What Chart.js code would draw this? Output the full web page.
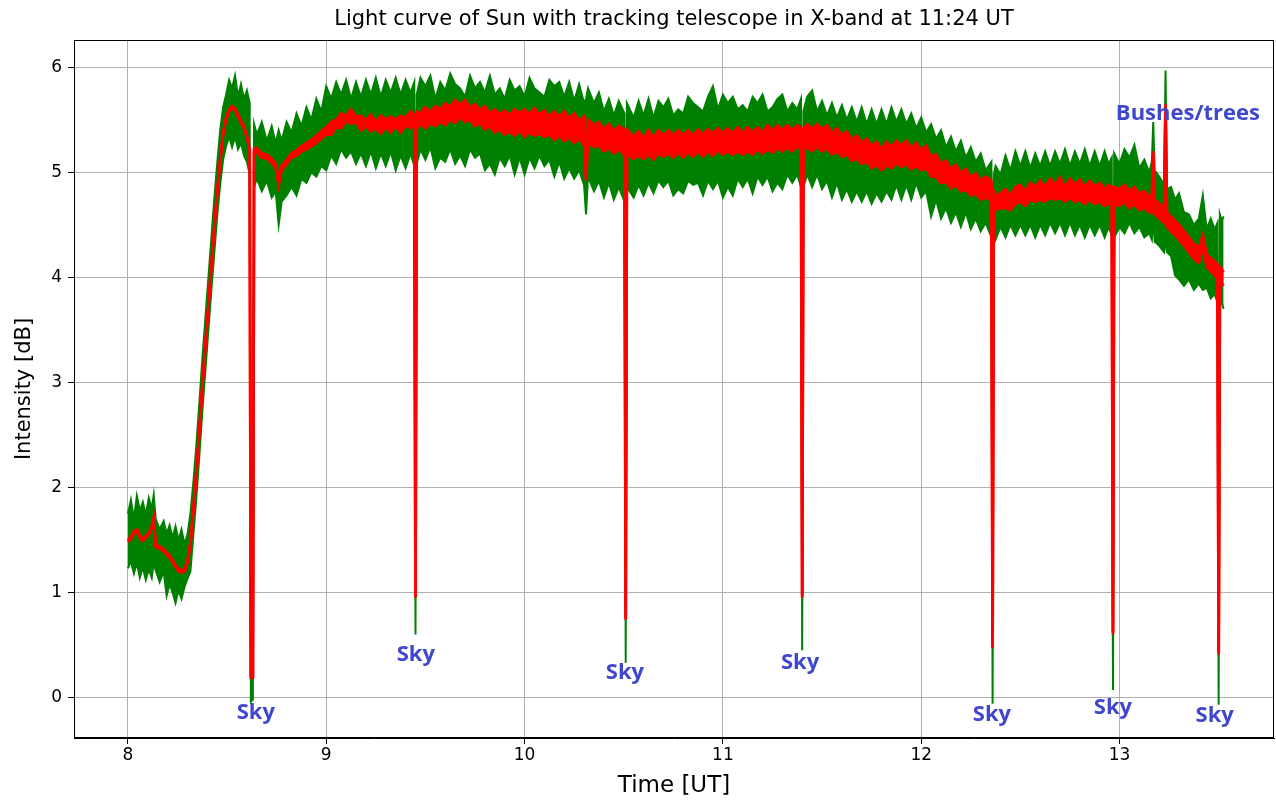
<!DOCTYPE html>
<html><head><meta charset="utf-8">
<script src="https://cdn.jsdelivr.net/npm/chart.js@4.4.0/dist/chart.umd.min.js"></script>
<style>html,body{margin:0;padding:0;background:#fff}canvas{display:block}</style>
</head><body>
<canvas id="c" width="1276" height="801"></canvas>
<script>
// Time [UT]
const time = [
8.000,8.015,8.030,8.045,8.060,8.075,8.090,8.105,8.120,8.130,
8.140,8.160,8.180,8.195,8.210,8.225,8.240,8.255,8.270,8.285,
8.300,8.315,8.330,8.345,8.360,8.375,8.390,8.405,8.420,8.435,
8.450,8.465,8.480,8.495,8.510,8.525,8.540,8.555,8.570,8.585,
8.600,8.614,8.620,8.630,8.636,8.650,8.675,8.700,8.725,8.745,
8.760,8.775,8.800,8.825,8.850,8.875,8.900,8.925,8.950,8.975,
9.000,9.025,9.050,9.075,9.100,9.125,9.150,9.175,9.200,9.225,
9.250,9.275,9.300,9.325,9.350,9.375,9.400,9.425,9.444,9.450,
9.456,9.475,9.500,9.525,9.550,9.575,9.600,9.625,9.650,9.675,
9.700,9.725,9.750,9.775,9.800,9.825,9.850,9.875,9.900,9.925,
9.950,9.975,10.000,10.025,10.050,10.075,10.100,10.125,10.150,10.175,
10.200,10.225,10.250,10.275,10.300,10.310,10.320,10.350,10.375,10.400,
10.425,10.450,10.475,10.504,10.510,10.516,10.550,10.575,10.600,10.625,
10.650,10.675,10.700,10.725,10.750,10.775,10.800,10.825,10.850,10.875,
10.900,10.925,10.950,10.975,11.000,11.025,11.050,11.075,11.100,11.125,
11.150,11.175,11.200,11.225,11.250,11.275,11.300,11.325,11.350,11.375,
11.394,11.400,11.406,11.425,11.450,11.475,11.500,11.525,11.550,11.575,
11.600,11.625,11.650,11.675,11.700,11.725,11.750,11.775,11.800,11.825,
11.850,11.875,11.900,11.925,11.950,11.975,12.000,12.025,12.050,12.075,
12.100,12.125,12.150,12.175,12.200,12.225,12.250,12.275,12.300,12.325,
12.354,12.360,12.366,12.375,12.400,12.425,12.450,12.475,12.500,12.525,
12.550,12.575,12.600,12.625,12.650,12.675,12.700,12.725,12.750,12.775,
12.800,12.825,12.850,12.875,12.900,12.925,12.945,12.961,12.967,12.973,
13.000,13.025,13.050,13.075,13.100,13.125,13.150,13.163,13.170,13.177,
13.200,13.225,13.232,13.239,13.260,13.280,13.300,13.325,13.350,13.375,
13.400,13.420,13.440,13.460,13.480,13.494,13.500,13.506,13.515,13.525
];
// Raw signal (green): upper and lower envelope of the noise band [dB]
const greenHigh = [
1.75,1.88,1.70,1.92,1.78,1.86,1.74,1.90,1.80,1.93,
1.70,1.60,1.68,1.56,1.64,1.52,1.63,1.50,1.60,1.46,
1.55,1.75,2.05,2.40,2.80,3.22,3.60,3.98,4.36,4.74,
5.08,5.40,5.62,5.74,5.88,5.80,5.92,5.72,5.84,5.70,
5.78,5.66,0.22,0.22,5.46,5.36,5.48,5.30,5.44,5.28,
5.40,5.30,5.48,5.38,5.56,5.44,5.62,5.50,5.70,5.58,
5.82,5.70,5.86,5.74,5.88,5.70,5.86,5.72,5.88,5.74,
5.90,5.72,5.88,5.76,5.90,5.74,5.88,5.76,5.86,0.97,
5.74,5.90,5.82,5.92,5.70,5.86,5.78,5.94,5.84,5.80,
5.72,5.92,5.80,5.86,5.76,5.92,5.74,5.80,5.70,5.88,
5.78,5.82,5.72,5.90,5.80,5.76,5.72,5.88,5.82,5.86,
5.72,5.86,5.68,5.84,5.66,5.70,5.80,5.66,5.76,5.58,
5.70,5.54,5.68,5.56,0.76,5.66,5.52,5.68,5.54,5.70,
5.52,5.68,5.62,5.70,5.54,5.60,5.56,5.72,5.66,5.62,
5.58,5.72,5.82,5.60,5.74,5.66,5.72,5.60,5.64,5.58,
5.72,5.66,5.74,5.58,5.62,5.70,5.74,5.58,5.66,5.60,
5.70,0.97,5.58,5.72,5.78,5.58,5.68,5.54,5.66,5.52,
5.64,5.50,5.62,5.48,5.62,5.46,5.60,5.46,5.60,5.46,
5.62,5.48,5.60,5.46,5.56,5.42,5.52,5.38,5.46,5.32,
5.40,5.24,5.34,5.20,5.30,5.14,5.24,5.10,5.18,5.02,
5.10,0.49,4.98,5.06,4.98,5.16,5.02,5.20,5.06,5.20,
5.04,5.18,5.06,5.20,5.06,5.20,5.08,5.22,5.06,5.20,
5.08,5.22,5.06,5.20,5.06,5.20,5.08,5.14,0.62,5.18,
5.08,5.22,5.14,5.26,5.04,5.12,5.00,5.10,5.48,5.02,
4.96,4.88,5.97,4.84,4.86,4.74,4.80,4.62,4.60,4.50,
4.56,4.78,4.46,4.56,4.46,4.52,0.43,4.60,4.54,4.58
];
const greenLow = [
1.23,1.30,1.18,1.28,1.14,1.24,1.12,1.22,1.14,1.28,
1.21,1.10,1.20,0.97,1.08,1.00,0.90,1.02,0.94,1.05,
1.13,1.20,1.55,1.90,2.30,2.72,3.10,3.48,3.86,4.22,
4.58,4.88,5.12,5.25,5.34,5.24,5.34,5.22,5.28,5.16,
5.10,4.98,-0.04,-0.02,4.86,4.94,4.82,4.92,4.76,4.82,
4.50,4.72,4.78,4.86,4.78,4.94,4.90,5.00,4.96,5.06,
5.02,5.16,5.08,5.22,5.14,5.20,5.08,5.18,5.06,5.20,
5.04,5.18,5.06,5.20,5.02,5.16,5.04,5.18,5.06,0.60,
5.08,5.22,5.12,5.24,5.04,5.14,5.10,5.22,5.08,5.16,
5.06,5.22,5.14,5.18,5.02,5.08,4.98,5.14,5.06,5.16,
4.98,5.14,4.98,5.14,5.04,5.16,5.06,5.12,4.96,5.10,
4.94,5.04,4.94,5.02,4.88,4.60,4.96,4.82,4.92,4.76,
4.90,4.74,4.86,4.72,0.33,4.86,4.76,4.88,4.78,4.90,
4.80,4.92,4.86,4.92,4.78,4.84,4.80,4.92,4.88,4.90,
4.78,4.92,4.84,4.92,4.76,4.86,4.78,4.94,4.86,4.94,
4.80,4.96,4.88,4.96,4.82,4.90,4.84,4.98,4.90,4.98,
4.86,0.45,4.86,4.98,4.86,4.98,4.84,4.92,4.76,4.90,
4.74,4.84,4.72,4.82,4.72,4.82,4.70,4.80,4.72,4.82,
4.74,4.88,4.74,4.88,4.74,4.90,4.76,4.82,4.58,4.74,
4.56,4.66,4.52,4.62,4.48,4.62,4.46,4.56,4.44,4.52,
4.38,-0.06,4.44,4.36,4.48,4.38,4.50,4.40,4.50,4.40,
4.50,4.38,4.50,4.40,4.52,4.42,4.52,4.40,4.52,4.40,
4.50,4.38,4.50,4.40,4.50,4.38,4.48,4.40,0.07,4.38,
4.48,4.42,4.52,4.42,4.48,4.38,4.42,4.36,4.60,4.34,
4.30,4.24,4.40,4.24,4.20,4.02,3.98,3.92,3.98,3.88,
3.94,3.88,3.90,3.80,3.84,3.76,-0.07,3.74,3.76,3.70
];
// Smoothed signal (red): upper and lower edge [dB]
const redHigh = [
1.50,1.53,1.58,1.60,1.54,1.51,1.54,1.57,1.63,1.71,
1.45,1.44,1.41,1.38,1.35,1.31,1.26,1.22,1.21,1.22,
1.30,1.47,1.80,2.14,2.54,2.97,3.35,3.72,4.10,4.47,
4.82,5.12,5.38,5.52,5.60,5.63,5.61,5.55,5.49,5.44,
5.35,5.22,0.21,0.21,5.22,5.23,5.18,5.17,5.13,5.08,
4.94,5.06,5.12,5.18,5.21,5.25,5.28,5.31,5.35,5.39,
5.43,5.48,5.50,5.56,5.54,5.60,5.53,5.54,5.49,5.55,
5.48,5.54,5.50,5.53,5.50,5.54,5.52,5.58,5.55,0.97,
5.58,5.56,5.62,5.57,5.63,5.60,5.66,5.62,5.69,5.64,
5.69,5.62,5.65,5.59,5.63,5.56,5.60,5.55,5.59,5.54,
5.60,5.56,5.60,5.55,5.61,5.55,5.59,5.53,5.58,5.53,
5.58,5.51,5.56,5.49,5.53,5.00,5.50,5.45,5.48,5.41,
5.46,5.39,5.44,5.40,0.76,5.41,5.34,5.39,5.33,5.40,
5.33,5.40,5.35,5.40,5.35,5.40,5.35,5.40,5.35,5.41,
5.36,5.41,5.37,5.42,5.37,5.42,5.37,5.43,5.37,5.43,
5.38,5.43,5.38,5.45,5.39,5.45,5.40,5.45,5.40,5.45,
5.42,0.97,5.42,5.46,5.41,5.46,5.41,5.45,5.37,5.42,
5.35,5.39,5.31,5.35,5.28,5.32,5.25,5.29,5.22,5.29,
5.24,5.30,5.25,5.30,5.23,5.28,5.21,5.25,5.15,5.17,
5.08,5.11,5.03,5.07,4.99,5.03,4.95,4.99,4.92,4.96,
4.92,0.49,4.82,4.78,4.80,4.84,4.78,4.86,4.88,4.82,
4.90,4.86,4.92,4.86,4.94,4.88,4.95,4.86,4.94,4.88,
4.93,4.86,4.92,4.86,4.90,4.84,4.88,4.86,0.62,4.86,
4.84,4.88,4.82,4.86,4.80,4.82,4.76,4.78,5.20,4.74,
4.70,4.66,5.65,4.62,4.58,4.54,4.50,4.44,4.38,4.32,
4.28,4.40,4.22,4.18,4.15,4.12,0.43,4.10,4.08,4.05
];
const redLow = [
1.48,1.51,1.56,1.58,1.52,1.49,1.52,1.55,1.61,1.69,
1.43,1.42,1.39,1.36,1.33,1.29,1.24,1.20,1.19,1.20,
1.28,1.45,1.78,2.12,2.52,2.95,3.33,3.70,4.08,4.45,
4.80,5.10,5.36,5.50,5.58,5.61,5.59,5.53,5.47,5.42,
5.33,5.20,0.19,0.19,5.19,5.19,5.14,5.13,5.09,5.04,
4.88,5.02,5.08,5.14,5.16,5.20,5.22,5.25,5.28,5.32,
5.36,5.36,5.43,5.42,5.49,5.46,5.48,5.40,5.44,5.39,
5.42,5.37,5.43,5.38,5.44,5.38,5.45,5.42,5.47,0.95,
5.42,5.46,5.42,5.47,5.44,5.48,5.45,5.50,5.47,5.53,
5.48,5.50,5.44,5.47,5.41,5.44,5.38,5.41,5.36,5.39,
5.35,5.40,5.34,5.38,5.35,5.37,5.34,5.36,5.31,5.35,
5.30,5.33,5.28,5.32,5.26,4.92,5.29,5.24,5.26,5.20,
5.23,5.18,5.22,5.16,0.74,5.18,5.13,5.16,5.13,5.17,
5.12,5.18,5.15,5.18,5.14,5.19,5.14,5.19,5.15,5.20,
5.15,5.20,5.16,5.21,5.17,5.20,5.17,5.20,5.17,5.20,
5.17,5.22,5.18,5.22,5.19,5.23,5.20,5.24,5.20,5.25,
5.22,0.95,5.22,5.24,5.20,5.25,5.20,5.23,5.17,5.20,
5.15,5.17,5.11,5.13,5.08,5.10,5.04,5.07,5.02,5.07,
5.04,5.09,5.05,5.08,5.03,5.06,5.02,5.04,4.96,4.96,
4.90,4.91,4.85,4.88,4.82,4.84,4.78,4.80,4.74,4.76,
4.73,0.47,4.68,4.64,4.66,4.66,4.64,4.70,4.72,4.68,
4.74,4.72,4.74,4.72,4.76,4.74,4.76,4.72,4.76,4.72,
4.74,4.70,4.74,4.70,4.72,4.68,4.70,4.70,0.60,4.70,
4.68,4.72,4.66,4.70,4.64,4.66,4.62,4.62,5.16,4.60,
4.56,4.52,5.60,4.48,4.44,4.40,4.36,4.30,4.24,4.18,
4.14,4.28,4.10,4.06,4.02,3.98,0.41,3.96,3.94,3.92
];
// Annotations (anchored in data coordinates)
const skyLabelText = 'Sky';
const skyLabelX = [8.645, 9.452, 10.506, 11.389, 12.357, 12.967, 13.48];
const skyLabelY = [-0.148, 0.405, 0.233, 0.328, -0.167, -0.10, -0.176];
const bushLabelText = 'Bushes/trees';
const bushLabelX = [13.345];
const bushLabelY = [5.556];
const xTickRange = [7.728, 13.779];
const yTickRange = [-0.386, 6.26];

const pts = arr => time.map((t, i) => ({x: t, y: arr[i]}));
const RED = '#ff0000', GREEN = '#008000';

const annotate = {
  id: 'annotate',
  afterDatasetsDraw(chart) {
    const {ctx, scales: {x, y}} = chart;
    ctx.save();
    ctx.font = 'bold 22px "Open Sans"';
    ctx.fillStyle = '#3f48cc';
    ctx.textAlign = 'center';
    ctx.textBaseline = 'middle';
    skyLabelX.forEach((v, i) => ctx.fillText(skyLabelText, x.getPixelForValue(v), y.getPixelForValue(skyLabelY[i])));
    ctx.fillText(bushLabelText, x.getPixelForValue(bushLabelX[0]), y.getPixelForValue(bushLabelY[0]));
    ctx.restore();
  },
  afterDraw(chart) {
    const {ctx, chartArea: a} = chart;
    ctx.save();
    ctx.strokeStyle = '#000';
    ctx.lineWidth = 1;
    ctx.strokeRect(Math.round(a.left) + 0.5, Math.round(a.top) + 0.5, Math.round(a.right - a.left) - 1, Math.round(a.bottom - a.top) - 1);
    ctx.restore();
  }
};

const tickFont = {family: 'DejaVu Sans', size: 17};

new Chart(document.getElementById('c'), {
  type: 'line',
  data: {
    datasets: [
      {label: 'smoothed high', data: pts(redHigh), borderColor: RED, backgroundColor: RED, borderWidth: 2.8, pointRadius: 0, fill: false, tension: 0},
      {label: 'smoothed low', data: pts(redLow), borderColor: RED, backgroundColor: RED, borderWidth: 2.8, pointRadius: 0, fill: '-1', tension: 0},
      {label: 'raw high', data: pts(greenHigh), borderColor: GREEN, backgroundColor: GREEN, borderWidth: 2, pointRadius: 0, fill: false, tension: 0},
      {label: 'raw low', data: pts(greenLow), borderColor: GREEN, backgroundColor: GREEN, borderWidth: 2, pointRadius: 0, fill: '-1', tension: 0}
    ]
  },
  options: {
    responsive: false,
    devicePixelRatio: 1,
    animation: false,
    events: [],
    layout: {padding: {left: 0, right: 2, top: 0, bottom: 0}},
    plugins: {
      legend: {display: false},
      tooltip: {enabled: false},
      title: {
        display: true,
        text: 'Light curve of Sun with tracking telescope in X-band at 11:24 UT',
        font: {family: 'DejaVu Sans', size: 21, weight: 'normal'},
        color: '#000',
        fullSize: false,
        padding: {top: 7, bottom: 7.8}
      }
    },
    scales: {
      x: {
        type: 'linear',
        min: xTickRange[0], max: xTickRange[1],
        afterFit: s => { s.height = 63; },
        ticks: {stepSize: 1, includeBounds: false, font: tickFont, color: '#000', padding: 1, maxRotation: 0, autoSkip: false},
        grid: {color: '#b0b0b0', lineWidth: 1, tickColor: '#000', tickLength: 6},
        border: {display: true, color: '#000', width: 1},
        title: {display: true, text: 'Time [UT]', font: {family: 'DejaVu Sans', size: 23}, color: '#000', padding: {top: 0, bottom: 1}}
      },
      y: {
        type: 'linear',
        min: yTickRange[0], max: yTickRange[1],
        afterFit: s => { s.width = 74; },
        ticks: {stepSize: 1, includeBounds: false, font: tickFont, color: '#000', padding: 6},
        grid: {color: '#b0b0b0', lineWidth: 1, tickColor: '#000', tickLength: 6},
        border: {display: true, color: '#000', width: 1},
        title: {display: true, text: 'Intensity [dB]', font: {family: 'DejaVu Sans', size: 21}, color: '#000', padding: {top: 12, bottom: 0}}
      }
    }
  },
  plugins: [annotate]
});
</script>
</body></html>
